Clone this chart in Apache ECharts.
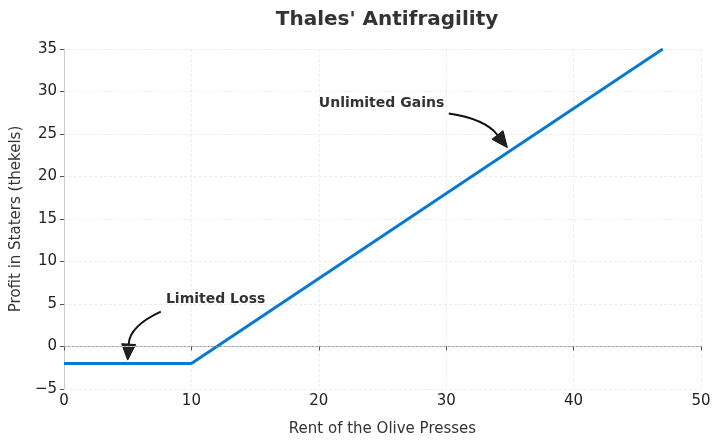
<!DOCTYPE html>
<html><head><meta charset="utf-8">
<script src="https://cdn.jsdelivr.net/npm/echarts@6/dist/echarts.min.js"></script>
<style>html,body{margin:0;padding:0;background:#fff}#c{width:720px;height:446px}</style>
</head><body><div id="c"></div>
<script>
// Data
const rentX = [0, 10, 47];
const profitY = [-2, -2, 35];
const xTicks = [0, 10, 20, 30, 40, 50];
const yTicks = [-5, 0, 5, 10, 15, 20, 25, 30, 35];
const annoLabels = ['Limited Loss', 'Unlimited Gains'];
const annoTextXY = [[8, 5], [20, 28]];
const annoTailXY = [[7.6, 4.1], [30.2, 27.4]];
const annoTipXY = [[5, -1.6], [34.8, 23.4]];
const annoRad = [-0.3, 0.2];

const FONT = 'DejaVu Sans';
const chart = echarts.init(document.getElementById('c'), null, {renderer: 'canvas'});
const fmt = v => (v < 0 ? '\u2212' + Math.abs(v) : String(v));

chart.setOption({
  animation: false,
  backgroundColor: '#fff',
  title: {
    text: "Thales' Antifragility", left: 382, top: 5, textAlign: 'center',
    textStyle: {fontFamily: FONT, fontWeight: 'bold', fontSize: 20, color: '#333'}
  },
  grid: {left: 64, right: 19, top: 49, bottom: 57, containLabel: false, outerBoundsMode: 'none'},
  xAxis: {
    type: 'value', min: xTicks[0], max: xTicks[xTicks.length - 1], interval: 10,
    name: 'Rent of the Olive Presses', nameLocation: 'middle', nameGap: 33,
    nameTextStyle: {fontFamily: FONT, fontSize: 15, color: '#333'},
    axisLine: {show: true, lineStyle: {color: '#cccccc', width: 1}},
    axisTick: {show: true, length: 4, lineStyle: {color: '#555'}},
    axisLabel: {fontFamily: FONT, fontSize: 15, color: '#222', margin: 5, formatter: fmt},
    splitLine: {show: true, lineStyle: {color: '#e8e8e8', type: [3, 2], width: 0.8}}
  },
  yAxis: {
    type: 'value', min: yTicks[0], max: yTicks[yTicks.length - 1], interval: 5,
    name: 'Profit in Staters (thekels)', nameLocation: 'middle', nameGap: 40,
    nameTextStyle: {fontFamily: FONT, fontSize: 15, color: '#333'},
    axisLine: {show: true, lineStyle: {color: '#cccccc', width: 1}},
    axisTick: {show: true, length: 4, lineStyle: {color: '#555'}},
    axisLabel: {fontFamily: FONT, fontSize: 15, color: '#222', margin: 7, formatter: fmt},
    splitLine: {show: true, lineStyle: {color: '#e8e8e8', type: [3, 2], width: 0.8}}
  },
  series: [{
    type: 'line',
    data: rentX.map((x, i) => [x, profitY[i]]),
    symbol: 'none',
    lineStyle: {color: '#0a7bcc', width: 3},
    markLine: {
      silent: true, symbol: 'none', label: {show: false},
      lineStyle: {color: '#999', type: [1.5, 2.5], width: 1},
      data: [{yAxis: 0}]
    }
  }]
});

function drawAnnotations() {
  const els = [];
  annoLabels.forEach((t, i) => {
    const tp = chart.convertToPixel({gridIndex: 0}, annoTextXY[i]);
    els.push({
      type: 'text', x: tp[0], y: tp[1] + 2,
      style: {text: t, fontFamily: FONT, fontWeight: 'bold', fontSize: 14, fill: '#333',
              textVerticalAlign: 'bottom', verticalAlign: 'bottom'}
    });
    const a = chart.convertToPixel({gridIndex: 0}, annoTailXY[i]);
    const b = chart.convertToPixel({gridIndex: 0}, annoTipXY[i]);
    const dx = b[0] - a[0], dy = b[1] - a[1];
    const f = annoRad[i];
    const c = [(a[0] + b[0]) / 2 + f * dy, (a[1] + b[1]) / 2 - f * dx];
    let tx = b[0] - c[0], ty = b[1] - c[1];
    const L = Math.hypot(tx, ty); tx /= L; ty /= L;
    const hl = 16, hw = 7;
    const base = [b[0] - tx * hl, b[1] - ty * hl];
    els.push({
      type: 'bezierCurve',
      shape: {x1: a[0], y1: a[1], cpx1: c[0], cpy1: c[1], x2: base[0], y2: base[1]},
      style: {stroke: '#111', lineWidth: 2, fill: null}
    });
    els.push({
      type: 'polygon',
      shape: {points: [b, [base[0] - ty * hw, base[1] + tx * hw], [base[0] + ty * hw, base[1] - tx * hw]]},
      style: {fill: '#222', stroke: '#111', lineWidth: 1}
    });
  });
  chart.setOption({graphic: {elements: els}});
}
drawAnnotations();
</script></body></html>
